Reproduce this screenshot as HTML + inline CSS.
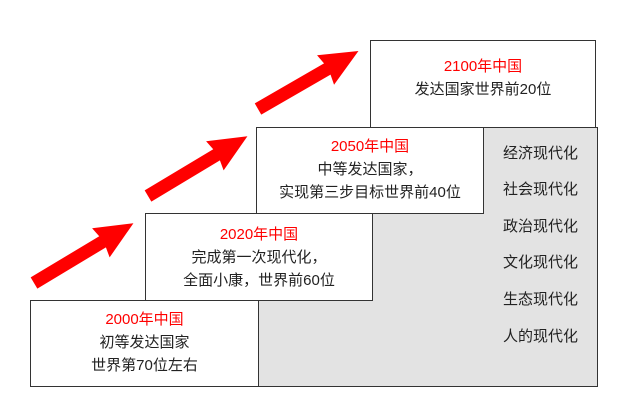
<!DOCTYPE html>
<html><head><meta charset="utf-8"><style>
body{margin:0;width:628px;height:417px;background:#fff;overflow:hidden;position:relative;font-family:"Liberation Sans","Noto Sans CJK SC",sans-serif;color:#222}
.g{position:absolute;left:258px;top:127px;width:338px;height:258px;background:#e3e3e3;border:1px solid #333}
.b{position:absolute;width:226px;height:85px;background:#fff;border:1px solid #333;box-sizing:border-box;text-align:center;font-size:15px;line-height:23px;padding-top:7px}
.r{color:#f00}
.l{position:absolute;left:503px;font-size:15px;line-height:18px}
svg{position:absolute;left:0;top:0}
</style></head><body>
<div class="g"></div>
<div class="b" style="left:370px;top:40px;height:88px;padding-top:14px"><span class="r">2100年中国</span><br>发达国家世界前20位</div>
<div class="b" style="left:256px;top:127px;width:228px;height:87px"><span class="r">2050年中国</span><br>中等发达国家，<br>实现第三步目标世界前40位</div>
<div class="b" style="left:145px;top:213px;width:228px;height:88px;padding-top:9px"><span class="r">2020年中国</span><br>完成第一次现代化，<br>全面小康，世界前60位</div>
<div class="b" style="left:30px;top:300px;width:229px;height:87px"><span class="r">2000年中国</span><br>初等发达国家<br>世界第70位左右</div>
<div class="l" style="top:145px">经济现代化</div>
<div class="l" style="top:181px">社会现代化</div>
<div class="l" style="top:218px">政治现代化</div>
<div class="l" style="top:254px">文化现代化</div>
<div class="l" style="top:291px">生态现代化</div>
<div class="l" style="top:328px">人的现代化</div>
<svg width="628" height="417">
<defs><polygon id="a" points="0,-6.5 80,-6.5 78,-17 116,0 78,17 80,6.5 0,6.5" fill="#f00"/></defs>
<use href="#a" transform="translate(34,283) rotate(-31)"/>
<use href="#a" transform="translate(148,196) rotate(-31)"/>
<use href="#a" transform="translate(258,109) rotate(-30)"/>
</svg>
</body></html>
